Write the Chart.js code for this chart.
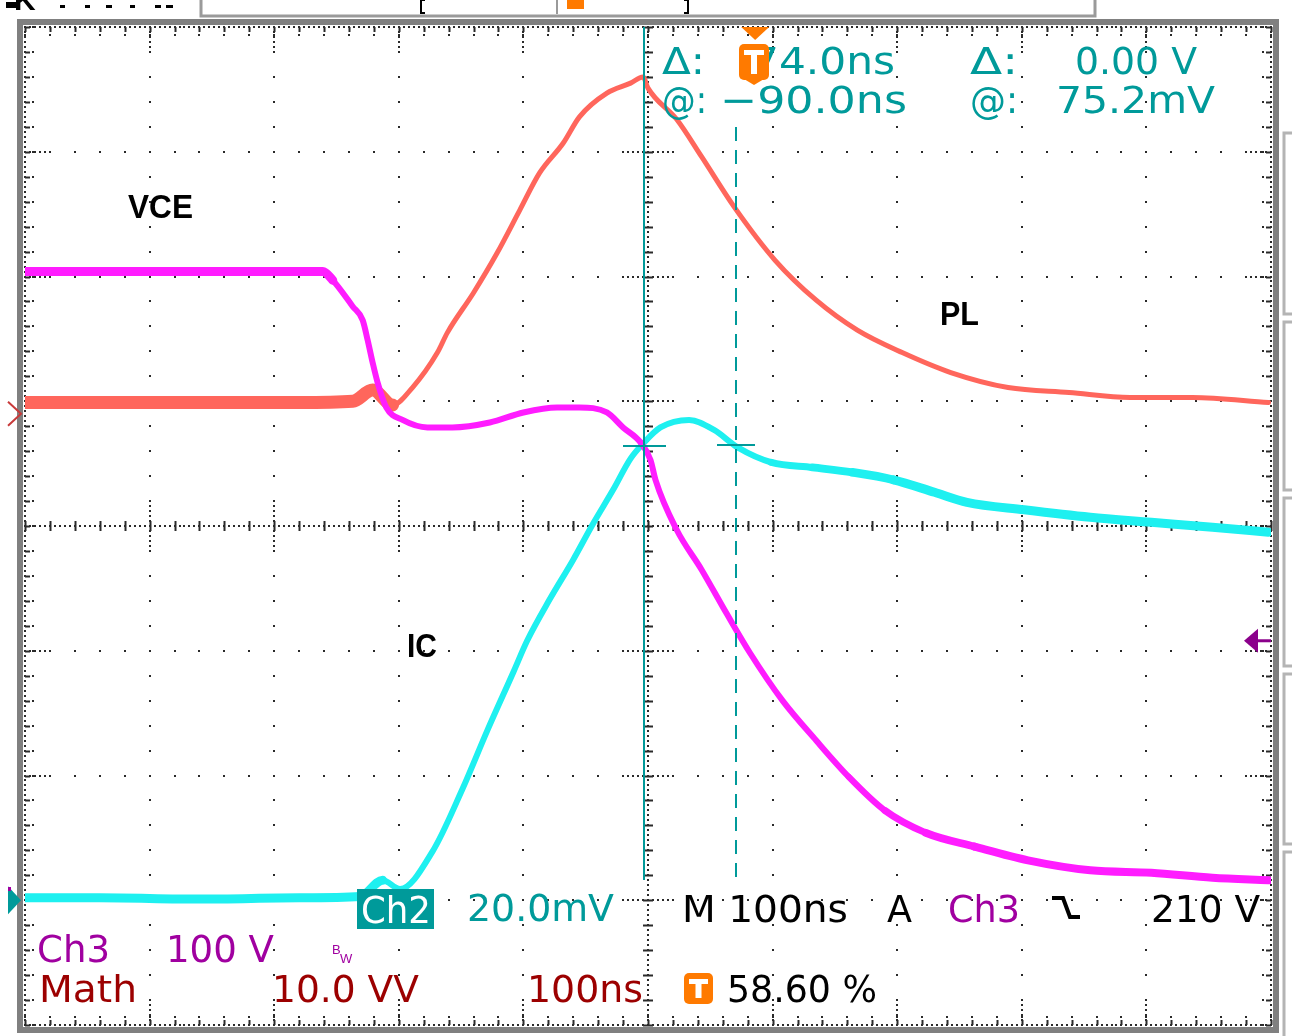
<!DOCTYPE html>
<html>
<head>
<meta charset="utf-8">
<script src="https://cdn.jsdelivr.net/npm/chart.js@4.4.0/dist/chart.umd.min.js"></script>
<style>
  html, body { margin: 0; padding: 0; background: #fff; overflow: hidden; }
  canvas { display: block; }
</style>
</head>
<body>
<canvas id="scope" width="1292" height="1036" style="width:1292px;height:1036px"></canvas>
<script>
// time in ns (100 ns/div, 0 = screen centre), amplitude in divisions from centre
var vceTime = [-500, -440, -360, -280, -261, -253, -237, -229, -225, -221, -217, -210, -197, -177, -157, -127, -100, -73, -55, -33, -20, -6, 2, 6, 23, 43, 63, 82, 108, 135, 161, 190, 223, 262, 305, 355, 404, 453, 498];
var vceDiv = [2.04, 2.04, 2.04, 2.04, 2.04, 1.97, 1.76, 1.65, 1.49, 1.31, 1.15, 0.95, 0.85, 0.79, 0.79, 0.83, 0.91, 0.95, 0.95, 0.91, 0.79, 0.67, 0.53, 0.37, -0.03, -0.35, -0.70, -1.02, -1.40, -1.72, -2.01, -2.28, -2.46, -2.57, -2.68, -2.76, -2.78, -2.82, -2.84];

var icTime = [-500, -440, -360, -280, -231, -213, -199, -173, -149, -129, -108, -97, -79, -60, -44, -28, -14, -4, 10, 33, 53, 72, 99, 132, 164, 197, 230, 256, 302, 355, 404, 453, 498];
var icDiv = [-2.98, -2.98, -2.99, -2.98, -2.97, -2.84, -2.91, -2.61, -2.11, -1.64, -1.17, -0.92, -0.59, -0.27, 0.02, 0.29, 0.54, 0.66, 0.79, 0.85, 0.77, 0.63, 0.51, 0.47, 0.43, 0.37, 0.27, 0.19, 0.13, 0.07, 0.03, -0.01, -0.05];

var plTime = [-500, -440, -360, -280, -237, -221, -205, -189, -169, -161, -140, -121, -103, -87, -68, -55, -33, -14, -4, 0, 23, 43, 69, 102, 135, 168, 204, 243, 289, 338, 387, 437, 498];
var plDiv = [0.99, 0.99, 0.99, 0.99, 1.00, 1.09, 0.97, 1.11, 1.39, 1.55, 1.87, 2.19, 2.53, 2.83, 3.07, 3.28, 3.47, 3.55, 3.60, 3.51, 3.26, 2.96, 2.56, 2.13, 1.81, 1.57, 1.39, 1.23, 1.11, 1.07, 1.03, 1.03, 0.99];

// cursors / markers
var cursorA = -3, cursorB = 71, cursorLevel = 0.64;
var triggerTime = 86, triggerLevel = -0.92;
var mathRef = 0.9, ch2Ground = -3.0;

var TEAL = '#009a9a', PURPLE = '#a000a0', DKRED = '#9c0000', ORANGE = '#ff7a00';
var scopeFont = '38px "DejaVu Sans", "Liberation Sans", sans-serif';
var labelFont = 'bold 33px "Liberation Sans", Arial, sans-serif';

function pts(t, v) {
  return t.map(function (x, i) { return { x: x, y: v[i] }; });
}

function fitText(c, str, x0, x1, yc, color, font, capH) {
  c.save();
  c.font = font;
  c.fillStyle = color;
  c.textAlign = 'left';
  c.textBaseline = 'alphabetic';
  var w = c.measureText(str).width;
  c.translate(x0, yc + capH / 2);
  c.scale((x1 - x0) / w, 1);
  c.fillText(str, 0, 0);
  c.restore();
}

function badge(c, x, y, w, h) {
  c.fillStyle = ORANGE;
  c.beginPath();
  c.roundRect(x, y, w, h, 5);
  c.fill();
  c.fillStyle = '#fff';
  c.fillRect(x + 5, y + 6, w - 10, 5);
  c.fillRect(x + w / 2 - 3, y + 6, 6, h - 12);
}

var graticule = {
  id: 'graticule',
  beforeDatasetsDraw: function (chart) {
    var c = chart.ctx, xs = chart.scales.x, ys = chart.scales.y, a = chart.chartArea;
    c.save();
    // grey bezel
    c.strokeStyle = '#808080';
    c.lineWidth = 6;
    c.strokeRect(a.left - 5, a.top - 5, a.right - a.left + 10, a.bottom - a.top + 10);
    c.fillStyle = '#2a2a2a';
    function dot(px, py) { c.fillRect(Math.round(px) - 1, Math.round(py) - 1, 2, 2); }
    var i, j, m, n;
    // vertical lines, fine steps of 0.04 div
    for (m = -5; m <= 5; m++) {
      var px = xs.getPixelForValue(m * 100);
      for (i = -100; i <= 100; i++) {
        var edge = Math.abs(m) === 5;
        if (edge || m === 0 || i % 5 === 0 || Math.abs(i) >= 95 || Math.abs(i) <= 5) dot(px, ys.getPixelForValue(i * 0.04));
      }
    }
    // horizontal lines, fine steps of 4 ns
    for (n = -4; n <= 4; n++) {
      var py = ys.getPixelForValue(n);
      for (j = -125; j <= 125; j++) {
        var edgeH = Math.abs(n) === 4;
        if (edgeH || n === 0 || j % 5 === 0 || Math.abs(j) >= 120 || Math.abs(j) <= 5) dot(xs.getPixelForValue(j * 4), py);
      }
    }
    // minor ticks on centre lines and edges
    c.strokeStyle = '#2a2a2a';
    c.lineWidth = 2;
    c.beginPath();
    var cx = xs.getPixelForValue(0), cy = ys.getPixelForValue(0);
    for (i = -20; i <= 20; i++) {
      var yy = Math.round(ys.getPixelForValue(i * 0.2)) + 0.5;
      c.moveTo(cx - 5, yy); c.lineTo(cx + 5, yy);
      c.moveTo(a.left, yy); c.lineTo(a.left + 5, yy);
      c.moveTo(a.right - 5, yy); c.lineTo(a.right, yy);
    }
    for (j = -25; j <= 25; j++) {
      var xx = Math.round(xs.getPixelForValue(j * 20)) + 0.5;
      c.moveTo(xx, cy - 5); c.lineTo(xx, cy + 5);
      c.moveTo(xx, a.top); c.lineTo(xx, a.top + 5);
      c.moveTo(xx, a.bottom - 5); c.lineTo(xx, a.bottom);
    }
    c.stroke();
    for (i = -20; i <= 20; i++) {
      var y2 = ys.getPixelForValue(i * 0.2);
      dot(a.left + 8, y2); dot(a.right - 8, y2);
    }
    for (j = -25; j <= 25; j++) {
      var x2 = xs.getPixelForValue(j * 20);
      dot(x2, a.top + 8); dot(x2, a.bottom - 8);
    }
    c.restore();
  }
};

var overlay = {
  id: 'overlay',
  afterDatasetsDraw: function (chart) {
    var c = chart.ctx, xs = chart.scales.x, ys = chart.scales.y, a = chart.chartArea;
    c.save();
    // cursors
    var xa = Math.round(xs.getPixelForValue(cursorA)), xb = Math.round(xs.getPixelForValue(cursorB));
    var yl = Math.round(ys.getPixelForValue(cursorLevel));
    c.strokeStyle = TEAL;
    c.lineWidth = 2;
    c.beginPath();
    c.moveTo(xa, a.top); c.lineTo(xa, 880);
    c.moveTo(xa - 21, yl); c.lineTo(xa + 22, yl);
    c.moveTo(xb - 19, yl - 1); c.lineTo(xb + 19, yl - 1);
    c.stroke();
    c.setLineDash([14, 9]);
    c.beginPath();
    c.moveTo(xb, 127); c.lineTo(xb, 878);
    c.stroke();
    c.setLineDash([]);

    // trigger position marker (top)
    var xt = xs.getPixelForValue(triggerTime);
    c.fillStyle = ORANGE;
    c.beginPath();
    c.moveTo(xt - 14, a.top); c.lineTo(xt + 14, a.top); c.lineTo(xt, a.top + 13);
    c.closePath(); c.fill();

    // trigger level arrow (right)
    var ytl = ys.getPixelForValue(triggerLevel);
    c.fillStyle = '#8b008b';
    c.beginPath();
    c.moveTo(a.right - 27, ytl); c.lineTo(a.right - 13, ytl - 12); c.lineTo(a.right - 13, ytl + 12);
    c.closePath(); c.fill();
    c.fillRect(a.right - 15, ytl - 1.5, 15, 3);

    // math reference chevron & ch2 ground (left)
    var ym = ys.getPixelForValue(mathRef);
    c.strokeStyle = '#c83a3a';
    c.lineWidth = 2;
    c.beginPath();
    c.moveTo(8, ym - 12); c.lineTo(21, ym); c.lineTo(8, ym + 12);
    c.stroke();
    var yg = ys.getPixelForValue(ch2Ground);
    c.fillStyle = TEAL;
    c.beginPath();
    c.moveTo(8, yg - 14); c.lineTo(21, yg); c.lineTo(8, yg + 14);
    c.closePath(); c.fill();
    c.fillStyle = PURPLE;
    c.fillRect(8, 887, 3, 4);

    // readouts
    var rows = [
      ['Δ:', 662, 705, 60, TEAL], ['74.0ns', 752, 895, 60, TEAL],
      ['Δ:', 970, 1018, 60, TEAL], ['0.00 V', 1075, 1197, 60, TEAL],
      ['@:', 662, 707, 99, TEAL], ['−90.0ns', 720, 907, 99, TEAL],
      ['@:', 970, 1018, 99, TEAL], ['75.2mV', 1056, 1215, 99, TEAL],
      ['20.0mV', 467, 614, 907, TEAL], ['M 100ns', 682, 848, 908, '#000'],
      ['A', 887, 912, 908, '#000'], ['Ch3', 948, 1020, 908, PURPLE],
      ['210 V', 1151, 1260, 908, '#000'],
      ['Ch3', 37, 110, 948, PURPLE], ['100 V', 166, 274, 948, PURPLE],
      ['Math', 39, 137, 988, DKRED], ['10.0 VV', 272, 419, 988, DKRED],
      ['100ns', 527, 643, 988, DKRED], ['58.60 %', 727, 877, 988, '#000']
    ];
    rows.forEach(function (r) { fitText(c, r[0], r[1], r[2], r[3], r[4], scopeFont, 28); });

    // Ch2 box
    c.fillStyle = TEAL;
    c.fillRect(357, 889, 77, 40);
    fitText(c, 'Ch2', 361, 431, 909, '#fff', scopeFont, 28);

    // BW mark
    c.font = '13px "Liberation Sans", Arial, sans-serif';
    c.fillStyle = PURPLE;
    c.fillText('B', 332, 954);
    c.fillText('W', 340, 963);

    // falling-edge symbol
    c.strokeStyle = '#000';
    c.lineWidth = 4;
    c.beginPath();
    c.moveTo(1052, 898); c.lineTo(1063, 898); c.lineTo(1070, 917); c.lineTo(1080, 917);
    c.stroke();

    // T badges
    badge(c, 739, 44, 30, 36);
    c.fillStyle = ORANGE;
    c.beginPath();
    c.moveTo(744, 79); c.lineTo(764, 79); c.lineTo(754, 85); c.closePath(); c.fill();
    badge(c, 684, 973, 29, 31);

    // trace labels
    fitText(c, 'VCE', 128, 193, 206, '#000', labelFont, 24);
    fitText(c, 'PL', 940, 979, 313, '#000', labelFont, 24);
    fitText(c, 'IC', 407, 437, 645, '#000', labelFont, 24);

    // top status strip remnants
    c.strokeStyle = '#9a9a9a';
    c.lineWidth = 3;
    c.beginPath();
    c.moveTo(201, 0); c.lineTo(201, 16); c.lineTo(1095, 16); c.lineTo(1095, 0);
    c.stroke();
    c.fillStyle = '#000';
    c.font = 'bold 30px "Liberation Sans", Arial, sans-serif';
    c.fillText('K', 14, 10);
    c.fillRect(6, 2, 10, 6);
    [[60, 5], [85, 5], [106, 6], [130, 5], [155, 6], [166, 7]].forEach(function (d) { c.fillRect(d[0], 5, d[1], 3); });
    c.lineWidth = 2;
    c.strokeStyle = '#000';
    c.beginPath();
    c.moveTo(425, 0); c.lineTo(421, 0); c.lineTo(421, 13); c.lineTo(425, 13);
    c.moveTo(684, 0); c.lineTo(688, 0); c.lineTo(688, 13); c.lineTo(684, 13);
    c.stroke();
    c.strokeStyle = '#9a9a9a';
    c.beginPath(); c.moveTo(557, 0); c.lineTo(557, 14); c.stroke();
    c.fillStyle = ORANGE;
    c.fillRect(567, 0, 17, 9);

    // right-side menu rails
    c.strokeStyle = '#b4b4b4';
    c.lineWidth = 3;
    [[133, 314], [322, 490], [498, 666], [674, 844], [852, 1040]].forEach(function (b) {
      c.beginPath();
      c.moveTo(1292, b[0]); c.lineTo(1284, b[0]); c.lineTo(1284, b[1]); c.lineTo(1292, b[1]);
      c.stroke();
    });
    c.restore();
  }
};

// trace thickness: wide noisy band on the flat parts, easing back to a thin line on the edges
function widthBy(flatEnd, tailStart, flat, tail, thin) {
  return function (ctx) {
    var x = ctx.p0.parsed.x;
    if (x < flatEnd) return flat;
    if (x < tailStart) return thin;
    return Math.min(tail, thin + (x - tailStart) / 40);
  };
}

new Chart(document.getElementById('scope').getContext('2d'), {
  type: 'line',
  data: {
    datasets: [
      { label: 'VCE', data: pts(vceTime, vceDiv), borderColor: '#ff1cff', borderWidth: 6,
        segment: { borderWidth: widthBy(-255, 150, 9, 8, 6) } },
      { label: 'IC', data: pts(icTime, icDiv), borderColor: '#1ef0f0', borderWidth: 6,
        segment: { borderWidth: widthBy(-215, 60, 9, 9, 6) } },
      { label: 'PL', data: pts(plTime, plDiv), borderColor: '#ff665c', borderWidth: 6,
        segment: { borderWidth: widthBy(-215, 9999, 13, 6, 5) } }
    ]
  },
  options: {
    responsive: false,
    animation: false,
    devicePixelRatio: 1,
    layout: { padding: { left: 25, right: 21, top: 27, bottom: 11 } },
    elements: {
      point: { radius: 0 },
      line: { cubicInterpolationMode: 'monotone', borderJoinStyle: 'round', borderCapStyle: 'round' }
    },
    plugins: { legend: { display: false }, tooltip: { enabled: false } },
    scales: {
      x: { type: 'linear', min: -500, max: 500, display: false },
      y: { min: -4, max: 4, display: false }
    }
  },
  plugins: [graticule, overlay]
});
</script>
</body>
</html>
